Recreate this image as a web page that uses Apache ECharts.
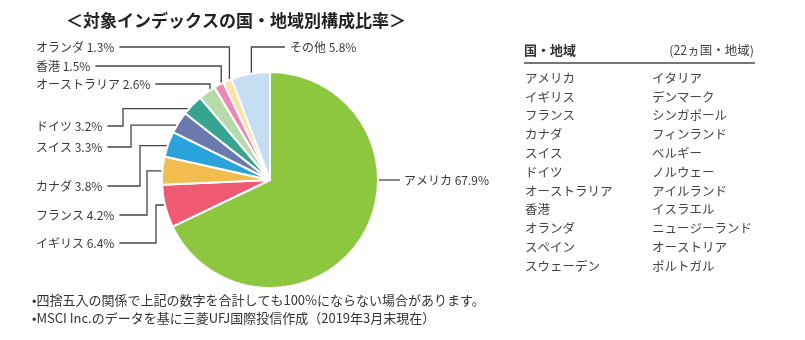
<!DOCTYPE html>
<html><head><meta charset="utf-8">
<script src="https://cdn.jsdelivr.net/npm/echarts@6/dist/echarts.min.js"></script>
<style>html,body{margin:0;padding:0;background:#fff}#c{width:805px;height:340px}</style>
</head><body><div id="c"></div>
<script>
// ---- data ----
const countries = ['アメリカ','イギリス','フランス','カナダ','スイス','ドイツ','オーストラリア','香港','オランダ','その他'];
const shares = [67.9, 6.4, 4.2, 3.8, 3.3, 3.2, 2.6, 1.5, 1.3, 5.8];
const sliceColors = ['#8dc63f','#ef5a72','#f2bd4f','#2aa3dc','#6a79ae','#35a590','#b6dba9','#ef88b6','#fde1a1','#c6def2'];
const titleText = '＜対象インデックスの国・地域別構成比率＞';
const tableHeader = '国・地域';
const tableCount = '(22ヵ国・地域)';
const tableLeft = ['アメリカ','イギリス','フランス','カナダ','スイス','ドイツ','オーストラリア','香港','オランダ','スペイン','スウェーデン'];
const tableRight = ['イタリア','デンマーク','シンガポール','フィンランド','ベルギー','ノルウェー','アイルランド','イスラエル','ニュージーランド','オーストリア','ポルトガル'];
const notes = ['•四捨五入の関係で上記の数字を合計しても100%にならない場合があります。','•MSCI Inc.のデータを基に三菱UFJ国際投信作成（2019年3月末現在）'];

// ---- layout ----
const FONT = '"Noto Sans CJK JP", "Noto Sans", sans-serif';
const CX = 270, CY = 180, R = 108;
const labelSpec = [
  {x:404, y:180, mode:'right'},
  {x:36, y:243, mode:'elbow', ex:156},
  {x:36, y:215, mode:'elbow', ex:147},
  {x:36, y:186, mode:'elbow', ex:140},
  {x:36, y:147, mode:'elbow', ex:131},
  {x:36, y:126, mode:'elbow', ex:123},
  {x:36, y:84, mode:'top'},
  {x:36, y:66, mode:'top'},
  {x:36, y:47, mode:'top'},
  {x:290, y:47, mode:'topRight'}
];

const chart = echarts.init(document.getElementById('c'), null, {renderer:'canvas'});

const graphics = [];
graphics.push({type:'text', style:{text:titleText, x:236, y:21, textAlign:'center', textVerticalAlign:'middle', font:'bold 17px ' + FONT, fill:'#222'}});
graphics.push({type:'text', style:{text:tableHeader, x:524, y:50, textVerticalAlign:'middle', font:'bold 13px ' + FONT, fill:'#333'}});
graphics.push({type:'text', style:{text:tableCount, x:754, y:50, textAlign:'right', textVerticalAlign:'middle', font:'12.5px ' + FONT, fill:'#444'}});
graphics.push({type:'line', shape:{x1:524, y1:63, x2:755, y2:63}, style:{stroke:'#777', lineWidth:2}});
tableLeft.forEach((t, i) => graphics.push({type:'text', style:{text:t, x:525, y:78 + i*18.8, textVerticalAlign:'middle', font:'12.5px ' + FONT, fill:'#444'}}));
tableRight.forEach((t, i) => graphics.push({type:'text', style:{text:t, x:652, y:78 + i*18.8, textVerticalAlign:'middle', font:'12.5px ' + FONT, fill:'#444'}}));
notes.forEach((t, i) => graphics.push({type:'text', style:{text:t, x:32, y:300 + i*18, textVerticalAlign:'middle', font:'13px ' + FONT, fill:'#333'}}));

chart.setOption({
  animation: false,
  graphic: graphics,
  series: [{
    type: 'pie',
    center: [CX, CY],
    radius: R,
    startAngle: 90,
    clockwise: true,
    silent: true,
    emphasis: {disabled: true},
    itemStyle: {borderColor: '#fff', borderWidth: 2},
    label: {
      show: true,
      position: 'outside',
      fontFamily: FONT,
      fontSize: 12,
      color: '#3a3a3a',
      formatter: p => p.name + ' ' + p.value.toFixed(1) + '%'
    },
    labelLine: {show: true, length: 10, length2: 10, lineStyle: {color: '#444', width: 1.3}},
    labelLayout: function (params) {
      const s = labelSpec[params.dataIndex];
      const w = params.labelRect.width;
      const p0 = params.labelLinePoints ? params.labelLinePoints[0] : [CX, CY - R];
      const vx = p0[0] - CX, vy = p0[1] - CY;
      const L = Math.hypot(vx, vy) || 1;
      const inner = [CX + vx / L * (R - 5), CY + vy / L * (R - 5)];
      let pts;
      if (s.mode === 'right') {
        pts = [[CX + R - 5, s.y], [s.x - 4, s.y]];
      } else if (s.mode === 'topRight') {
        pts = [inner, [inner[0], s.y], [s.x - 5, s.y]];
      } else if (s.mode === 'top') {
        pts = [inner, [inner[0], s.y], [s.x + w + 5, s.y]];
      } else {
        pts = [inner, [s.ex, inner[1]], [s.ex, s.y], [s.x + w + 5, s.y]];
      }
      return {x: s.x, y: s.y, align: 'left', verticalAlign: 'middle', labelLinePoints: pts};
    },
    data: countries.map((n, i) => ({name: n, value: shares[i], itemStyle: {color: sliceColors[i]}}))
  }]
});
</script>
</body></html>
